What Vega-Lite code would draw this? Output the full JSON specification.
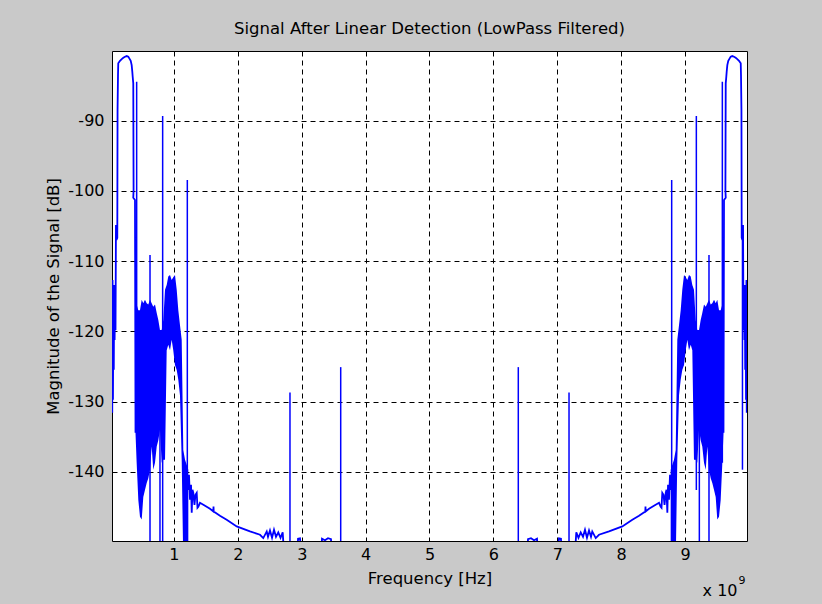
{
  "$schema": "https://vega.github.io/schema/vega-lite/v6.json",
  "width": 635,
  "height": 490,
  "autosize": {"type": "none"},
  "padding": {"left": 112, "top": 51, "right": 75, "bottom": 63},
  "background": "#c9c9c9",
  "title": {"text": "Signal After Linear Detection (LowPass Filtered)", "font": "DejaVu Sans", "fontSize": 16.5, "fontWeight": "normal", "color": "#000", "offset": 14, "frame": "group", "anchor": "middle"},
  "config": {
    "view": {"stroke": "#000", "strokeWidth": 1, "fill": "#ffffff"},
    "axis": {"labelFont": "DejaVu Sans", "labelFontSize": 16, "labelColor": "#000", "titleFont": "DejaVu Sans", "titleFontSize": 16.5, "titleFontWeight": "normal", "titleColor": "#000", "grid": true, "gridColor": "#000", "gridOpacity": 1, "gridDash": [5, 4], "gridWidth": 1, "ticks": false, "domain": false},
    "axisX": {"labelPadding": 5, "titlePadding": 8, "labelFlush": false},
    "axisY": {"labelPadding": 8, "titlePadding": 6}
  },
  "datasets": {
    "trace": [
      {"seg": "A", "f": 0.030, "db": -115.53},
      {"seg": "A", "f": 0.034, "db": -131.60},
      {"seg": "A", "f": 0.039, "db": -112.69},
      {"seg": "A", "f": 0.045, "db": -129.76},
      {"seg": "A", "f": 0.052, "db": -114.11},
      {"seg": "A", "f": 0.058, "db": -125.49},
      {"seg": "A", "f": 0.064, "db": -113.40},
      {"seg": "A", "f": 0.071, "db": -121.22},
      {"seg": "A", "f": 0.077, "db": -115.53},
      {"seg": "A", "f": 0.085, "db": -119.80},
      {"seg": "A", "f": 0.092, "db": -104.87},
      {"seg": "A", "f": 0.100, "db": -107.00},
      {"seg": "A", "f": 0.113, "db": -106.71},
      {"seg": "A", "f": 0.117, "db": -88.51},
      {"seg": "A", "f": 0.124, "db": -83.53},
      {"seg": "A", "f": 0.128, "db": -81.86},
      {"seg": "A", "f": 0.155, "db": -81.49},
      {"seg": "A", "f": 0.182, "db": -81.25},
      {"seg": "A", "f": 0.207, "db": -81.07},
      {"seg": "A", "f": 0.233, "db": -80.92},
      {"seg": "A", "f": 0.260, "db": -80.82},
      {"seg": "A", "f": 0.285, "db": -80.92},
      {"seg": "A", "f": 0.301, "db": -81.15},
      {"seg": "A", "f": 0.323, "db": -81.49},
      {"seg": "A", "f": 0.338, "db": -82.11},
      {"seg": "A", "f": 0.348, "db": -83.06},
      {"seg": "A", "f": 0.354, "db": -83.77},
      {"seg": "A", "f": 0.363, "db": -84.71},
      {"seg": "A", "f": 0.368, "db": -99.89},
      {"seg": "A", "f": 0.363, "db": -101.0},
      {"seg": "A", "f": 0.390, "db": -101.31},
      {"seg": "A", "f": 0.398, "db": -134.45},
      {"seg": "B", "f": 1.199, "db": -141.14},
      {"seg": "B", "f": 1.220, "db": -142.56},
      {"seg": "B", "f": 1.235, "db": -140.43},
      {"seg": "B", "f": 1.251, "db": -143.98},
      {"seg": "B", "f": 1.267, "db": -141.85},
      {"seg": "B", "f": 1.278, "db": -145.83},
      {"seg": "B", "f": 1.290, "db": -142.56},
      {"seg": "B", "f": 1.303, "db": -142.99},
      {"seg": "B", "f": 1.321, "db": -144.70},
      {"seg": "B", "f": 1.337, "db": -143.27},
      {"seg": "B", "f": 1.356, "db": -142.99},
      {"seg": "B", "f": 1.368, "db": -145.12},
      {"seg": "B", "f": 1.381, "db": -144.98},
      {"seg": "B", "f": 1.407, "db": -144.41},
      {"seg": "B", "f": 1.486, "db": -144.84},
      {"seg": "B", "f": 1.564, "db": -145.27},
      {"seg": "B", "f": 1.616, "db": -145.65},
      {"seg": "B", "f": 1.619, "db": -144.94},
      {"seg": "B", "f": 1.622, "db": -145.65},
      {"seg": "B", "f": 1.720, "db": -146.26},
      {"seg": "B", "f": 1.825, "db": -146.83},
      {"seg": "B", "f": 1.982, "db": -147.78},
      {"seg": "B", "f": 2.190, "db": -148.49},
      {"seg": "B", "f": 2.347, "db": -148.96},
      {"seg": "B", "f": 2.398, "db": -149.43},
      {"seg": "B", "f": 2.452, "db": -148.49},
      {"seg": "B", "f": 2.472, "db": -149.25},
      {"seg": "B", "f": 2.503, "db": -148.35},
      {"seg": "B", "f": 2.535, "db": -149.39},
      {"seg": "B", "f": 2.566, "db": -148.25},
      {"seg": "B", "f": 2.597, "db": -149.25},
      {"seg": "B", "f": 2.633, "db": -148.61},
      {"seg": "B", "f": 2.668, "db": -149.39},
      {"seg": "B", "f": 2.702, "db": -148.61},
      {"seg": "B", "f": 2.722, "db": -151.5},
      {"seg": "B", "f": 2.754, "db": -153},
      {"seg": "B", "f": 2.926, "db": -153},
      {"seg": "B", "f": 2.942, "db": -149.53},
      {"seg": "B", "f": 2.973, "db": -149.46},
      {"seg": "B", "f": 3.004, "db": -153},
      {"seg": "B", "f": 3.302, "db": -153},
      {"seg": "B", "f": 3.317, "db": -149.53},
      {"seg": "B", "f": 3.364, "db": -149.74},
      {"seg": "B", "f": 3.411, "db": -149.46},
      {"seg": "B", "f": 3.458, "db": -149.6},
      {"seg": "B", "f": 3.474, "db": -153},
      {"seg": "B", "f": 6.526, "db": -153},
      {"seg": "B", "f": 6.542, "db": -149.6},
      {"seg": "B", "f": 6.589, "db": -149.46},
      {"seg": "B", "f": 6.636, "db": -149.74},
      {"seg": "B", "f": 6.683, "db": -149.53},
      {"seg": "B", "f": 6.698, "db": -153},
      {"seg": "B", "f": 6.996, "db": -153},
      {"seg": "B", "f": 7.027, "db": -149.46},
      {"seg": "B", "f": 7.058, "db": -149.53},
      {"seg": "B", "f": 7.074, "db": -153},
      {"seg": "B", "f": 7.246, "db": -153},
      {"seg": "B", "f": 7.278, "db": -151.5},
      {"seg": "B", "f": 7.298, "db": -148.61},
      {"seg": "B", "f": 7.332, "db": -149.39},
      {"seg": "B", "f": 7.367, "db": -148.61},
      {"seg": "B", "f": 7.403, "db": -149.25},
      {"seg": "B", "f": 7.434, "db": -148.25},
      {"seg": "B", "f": 7.465, "db": -149.39},
      {"seg": "B", "f": 7.497, "db": -148.35},
      {"seg": "B", "f": 7.528, "db": -149.25},
      {"seg": "B", "f": 7.548, "db": -148.49},
      {"seg": "B", "f": 7.602, "db": -149.43},
      {"seg": "B", "f": 7.653, "db": -148.96},
      {"seg": "B", "f": 7.810, "db": -148.49},
      {"seg": "B", "f": 8.018, "db": -147.78},
      {"seg": "B", "f": 8.175, "db": -146.83},
      {"seg": "B", "f": 8.280, "db": -146.26},
      {"seg": "B", "f": 8.378, "db": -145.65},
      {"seg": "B", "f": 8.381, "db": -144.94},
      {"seg": "B", "f": 8.384, "db": -145.65},
      {"seg": "B", "f": 8.436, "db": -145.27},
      {"seg": "B", "f": 8.514, "db": -144.84},
      {"seg": "B", "f": 8.593, "db": -144.41},
      {"seg": "B", "f": 8.619, "db": -144.98},
      {"seg": "B", "f": 8.632, "db": -145.12},
      {"seg": "B", "f": 8.644, "db": -142.99},
      {"seg": "B", "f": 8.663, "db": -143.27},
      {"seg": "B", "f": 8.679, "db": -144.70},
      {"seg": "B", "f": 8.698, "db": -142.99},
      {"seg": "B", "f": 8.710, "db": -142.56},
      {"seg": "B", "f": 8.723, "db": -145.83},
      {"seg": "B", "f": 8.734, "db": -141.85},
      {"seg": "B", "f": 8.749, "db": -143.98},
      {"seg": "B", "f": 8.765, "db": -140.43},
      {"seg": "B", "f": 8.780, "db": -142.56},
      {"seg": "B", "f": 8.801, "db": -141.14},
      {"seg": "C", "f": 9.602, "db": -134.45},
      {"seg": "C", "f": 9.610, "db": -101.31},
      {"seg": "C", "f": 9.637, "db": -101.0},
      {"seg": "C", "f": 9.632, "db": -99.89},
      {"seg": "C", "f": 9.637, "db": -84.71},
      {"seg": "C", "f": 9.646, "db": -83.77},
      {"seg": "C", "f": 9.652, "db": -83.06},
      {"seg": "C", "f": 9.662, "db": -82.11},
      {"seg": "C", "f": 9.677, "db": -81.49},
      {"seg": "C", "f": 9.699, "db": -81.15},
      {"seg": "C", "f": 9.715, "db": -80.92},
      {"seg": "C", "f": 9.740, "db": -80.82},
      {"seg": "C", "f": 9.767, "db": -80.92},
      {"seg": "C", "f": 9.793, "db": -81.07},
      {"seg": "C", "f": 9.818, "db": -81.25},
      {"seg": "C", "f": 9.845, "db": -81.49},
      {"seg": "C", "f": 9.872, "db": -81.86},
      {"seg": "C", "f": 9.876, "db": -83.53},
      {"seg": "C", "f": 9.883, "db": -88.51},
      {"seg": "C", "f": 9.887, "db": -106.71},
      {"seg": "C", "f": 9.900, "db": -107.00},
      {"seg": "C", "f": 9.908, "db": -104.87},
      {"seg": "C", "f": 9.915, "db": -119.80},
      {"seg": "C", "f": 9.923, "db": -115.53},
      {"seg": "C", "f": 9.929, "db": -121.22},
      {"seg": "C", "f": 9.936, "db": -113.40},
      {"seg": "C", "f": 9.942, "db": -125.49},
      {"seg": "C", "f": 9.948, "db": -114.11},
      {"seg": "C", "f": 9.955, "db": -129.76},
      {"seg": "C", "f": 9.961, "db": -112.69},
      {"seg": "C", "f": 9.966, "db": -131.60},
      {"seg": "C", "f": 9.970, "db": -115.53}
    ],
    "bands": [
      {"side": "L", "f": 0.398, "db": -116.2, "db2": -134.5},
      {"side": "L", "f": 0.416, "db": -116.2, "db2": -138.7},
      {"side": "L", "f": 0.442, "db": -117.0, "db2": -144.0},
      {"side": "L", "f": 0.468, "db": -117.0, "db2": -146.4},
      {"side": "L", "f": 0.495, "db": -115.5, "db2": -146.8},
      {"side": "L", "f": 0.520, "db": -116.0, "db2": -143.6},
      {"side": "L", "f": 0.546, "db": -115.5, "db2": -142.6},
      {"side": "L", "f": 0.573, "db": -116.0, "db2": -141.6},
      {"side": "L", "f": 0.598, "db": -116.2, "db2": -140.9},
      {"side": "L", "f": 0.625, "db": -115.5, "db2": -139.7},
      {"side": "L", "f": 0.651, "db": -116.0, "db2": -136.4},
      {"side": "L", "f": 0.676, "db": -116.5, "db2": -139.7},
      {"side": "L", "f": 0.703, "db": -116.2, "db2": -138.7},
      {"side": "L", "f": 0.730, "db": -117.4, "db2": -136.4},
      {"side": "L", "f": 0.755, "db": -118.4, "db2": -135.5},
      {"side": "L", "f": 0.781, "db": -119.8, "db2": -134.0},
      {"side": "L", "f": 0.808, "db": -119.8, "db2": -138.7},
      {"side": "L", "f": 0.833, "db": -118.4, "db2": -138.3},
      {"side": "L", "f": 0.860, "db": -114.1, "db2": -138.3},
      {"side": "L", "f": 0.886, "db": -113.4, "db2": -122.7},
      {"side": "L", "f": 0.911, "db": -112.2, "db2": -121.9},
      {"side": "L", "f": 0.938, "db": -112.0, "db2": -122.7},
      {"side": "L", "f": 0.964, "db": -112.7, "db2": -121.2},
      {"side": "L", "f": 0.989, "db": -112.3, "db2": -122.7},
      {"side": "L", "f": 1.016, "db": -112.0, "db2": -124.8},
      {"side": "L", "f": 1.043, "db": -114.1, "db2": -125.5},
      {"side": "L", "f": 1.068, "db": -117.0, "db2": -126.9},
      {"side": "L", "f": 1.094, "db": -119.1, "db2": -129.1},
      {"side": "L", "f": 1.121, "db": -121.2, "db2": -138.3},
      {"side": "L", "f": 1.146, "db": -136.9, "db2": -153},
      {"side": "L", "f": 1.173, "db": -138.3, "db2": -153},
      {"side": "L", "f": 1.199, "db": -139.0, "db2": -153},
      {"side": "L", "f": 1.224, "db": -139.7, "db2": -150},
      {"side": "R", "f": 9.602, "db": -116.2, "db2": -134.5},
      {"side": "R", "f": 9.584, "db": -116.2, "db2": -138.7},
      {"side": "R", "f": 9.558, "db": -117.0, "db2": -144.0},
      {"side": "R", "f": 9.532, "db": -117.0, "db2": -146.4},
      {"side": "R", "f": 9.505, "db": -115.5, "db2": -146.8},
      {"side": "R", "f": 9.480, "db": -116.0, "db2": -143.6},
      {"side": "R", "f": 9.454, "db": -115.5, "db2": -142.6},
      {"side": "R", "f": 9.427, "db": -116.0, "db2": -141.6},
      {"side": "R", "f": 9.402, "db": -116.2, "db2": -140.9},
      {"side": "R", "f": 9.375, "db": -115.5, "db2": -139.7},
      {"side": "R", "f": 9.349, "db": -116.0, "db2": -136.4},
      {"side": "R", "f": 9.324, "db": -116.5, "db2": -139.7},
      {"side": "R", "f": 9.297, "db": -116.2, "db2": -138.7},
      {"side": "R", "f": 9.270, "db": -117.4, "db2": -136.4},
      {"side": "R", "f": 9.245, "db": -118.4, "db2": -135.5},
      {"side": "R", "f": 9.219, "db": -119.8, "db2": -134.0},
      {"side": "R", "f": 9.192, "db": -119.8, "db2": -138.7},
      {"side": "R", "f": 9.167, "db": -118.4, "db2": -138.3},
      {"side": "R", "f": 9.140, "db": -114.1, "db2": -138.3},
      {"side": "R", "f": 9.114, "db": -113.4, "db2": -122.7},
      {"side": "R", "f": 9.089, "db": -112.2, "db2": -121.9},
      {"side": "R", "f": 9.062, "db": -112.0, "db2": -122.7},
      {"side": "R", "f": 9.036, "db": -112.7, "db2": -121.2},
      {"side": "R", "f": 9.011, "db": -112.3, "db2": -122.7},
      {"side": "R", "f": 8.984, "db": -112.0, "db2": -124.8},
      {"side": "R", "f": 8.957, "db": -114.1, "db2": -125.5},
      {"side": "R", "f": 8.932, "db": -117.0, "db2": -126.9},
      {"side": "R", "f": 8.906, "db": -119.1, "db2": -129.1},
      {"side": "R", "f": 8.879, "db": -121.2, "db2": -138.3},
      {"side": "R", "f": 8.854, "db": -136.9, "db2": -153},
      {"side": "R", "f": 8.827, "db": -138.3, "db2": -153},
      {"side": "R", "f": 8.801, "db": -139.0, "db2": -153},
      {"side": "R", "f": 8.776, "db": -139.7, "db2": -150}
    ],
    "spikes": [
      {"f": 0.416, "db": -84.48, "db2": -134.45},
      {"f": 0.625, "db": -109.13, "db2": -153},
      {"f": 0.781, "db": -134.0, "db2": -153},
      {"f": 0.823, "db": -89.36, "db2": -153},
      {"f": 1.209, "db": -98.46, "db2": -153},
      {"f": 2.816, "db": -128.72, "db2": -153},
      {"f": 3.610, "db": -125.1, "db2": -153},
      {"f": 6.390, "db": -125.1, "db2": -153},
      {"f": 7.184, "db": -128.72, "db2": -153},
      {"f": 8.791, "db": -98.46, "db2": -153},
      {"f": 9.177, "db": -89.36, "db2": -142.6},
      {"f": 9.224, "db": -134.0, "db2": -153},
      {"f": 9.375, "db": -109.13, "db2": -153},
      {"f": 9.584, "db": -84.48, "db2": -138.7},
      {"f": 9.899, "db": -104.9, "db2": -139.7}
    ]
  },
  "layer": [
    {
      "data": {"name": "bands"},
      "mark": {"type": "area", "clip": true, "color": "#0000ff", "opacity": 1},
      "encoding": {
        "x": {"field": "f", "type": "quantitative", "title": "Frequency [Hz]", "scale": {"domain": [0.03, 9.97], "nice": false, "zero": false}, "axis": {"values": [1, 2, 3, 4, 5, 6, 7, 8, 9], "labelExpr": "'' + datum.value"}},
        "y": {"field": "db", "type": "quantitative", "title": "Magnitude of the Signal [dB]", "scale": {"domain": [-149.85, -80.1], "nice": false, "zero": false}, "axis": {"values": [-140, -130, -120, -110, -100, -90], "labelExpr": "'' + datum.value"}},
        "y2": {"field": "db2"},
        "detail": {"field": "side"}
      }
    },
    {
      "data": {"name": "spikes"},
      "mark": {"type": "rule", "clip": true, "color": "#0000ff", "strokeWidth": 1.5},
      "encoding": {
        "x": {"field": "f", "type": "quantitative", "title": "Frequency [Hz]"},
        "y": {"field": "db", "type": "quantitative", "title": "Magnitude of the Signal [dB]"},
        "y2": {"field": "db2"}
      }
    },
    {
      "data": {"name": "trace"},
      "mark": {"type": "line", "clip": true, "color": "#0000ff", "strokeWidth": 1.8},
      "encoding": {
        "x": {"field": "f", "type": "quantitative", "title": "Frequency [Hz]"},
        "y": {"field": "db", "type": "quantitative", "title": "Magnitude of the Signal [dB]"},
        "detail": {"field": "seg"},
        "order": {"value": null}
      }
    },
    {
      "data": {"values": [{"label": "x 10"}]},
      "mark": {"type": "text", "font": "DejaVu Sans", "fontSize": 16, "fill": "#000", "align": "center", "baseline": "middle"},
      "encoding": {
        "x": {"datum": 9.548, "type": "quantitative"},
        "y": {"datum": -156.9, "type": "quantitative"},
        "text": {"field": "label"}
      }
    },
    {
      "data": {"values": [{"label": "9"}]},
      "mark": {"type": "text", "font": "DejaVu Sans", "fontSize": 11, "fill": "#000", "align": "center", "baseline": "middle"},
      "encoding": {
        "x": {"datum": 9.89, "type": "quantitative"},
        "y": {"datum": -155.5, "type": "quantitative"},
        "text": {"field": "label"}
      }
    }
  ]
}
